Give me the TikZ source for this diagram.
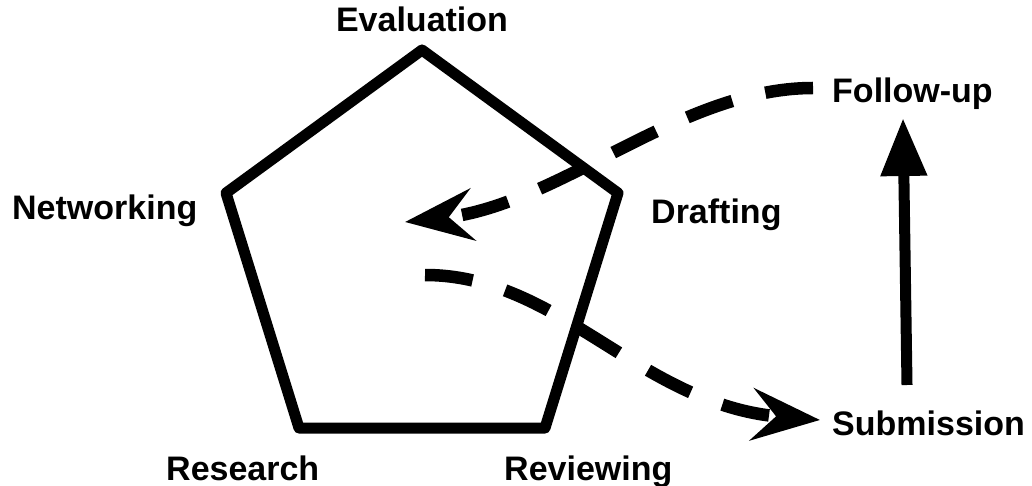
\documentclass[tikz,border=0pt]{standalone}
\usepackage{fontspec}
\setmainfont{Liberation Sans}
\usetikzlibrary{arrows.meta}
\begin{document}
\begin{tikzpicture}[x=1pt,y=-1pt,
  lbl/.style={font=\fontsize{34}{40}\selectfont\bfseries, inner sep=0pt},
  penta/.style={line width=11pt, line join=round},
  dashconn/.style={line width=12.5pt, dash pattern=on 48pt off 34pt,
    -{Stealth[length=68pt,width=52pt,inset=24pt]}},
  solidconn/.style={line width=11pt, -{Triangle[length=58pt,width=44pt]}}
]
\useasboundingbox (0,0) rectangle (1032,486);
% pentagon vertices
\coordinate (vT) at (422,50);
\coordinate (vR) at (618,193);
\coordinate (vBR) at (545,428);
\coordinate (vBL) at (299,428);
\coordinate (vL) at (226,193);
\draw[penta] (vT) -- (vR) -- (vBR) -- (vBL) -- (vL) -- cycle;
% labels
\node[lbl, anchor=base] (eval) at (422,32) {Evaluation};
\node[lbl, anchor=base west] (net) at (12,220) {Networking};
\node[lbl, anchor=base west] (draft) at (651,223) {Drafting};
\node[lbl, anchor=base west] (res) at (166,480) {Research};
\node[lbl, anchor=base west] (rev) at (504,480) {Reviewing};
\node[lbl, anchor=base west] (fol) at (832,103) {Follow-up};
\node[lbl, anchor=base west] (sub) at (832,435) {Submission};
% connectors
\coordinate (c1s) at (813,88);
\coordinate (c1e) at (405,222);
\coordinate (c2s) at (425,275);
\coordinate (c2e) at (820,420);
\coordinate (a1s) at (907,385);
\coordinate (a1e) at (903,118);
\draw[dashconn] (c1s) .. controls (680,88) and (560,205) .. (c1e);
\draw[dashconn] (c2s) .. controls (560,275) and (640,405) .. (c2e);
\draw[solidconn] (a1s) -- (a1e);
\end{tikzpicture}
\end{document}
